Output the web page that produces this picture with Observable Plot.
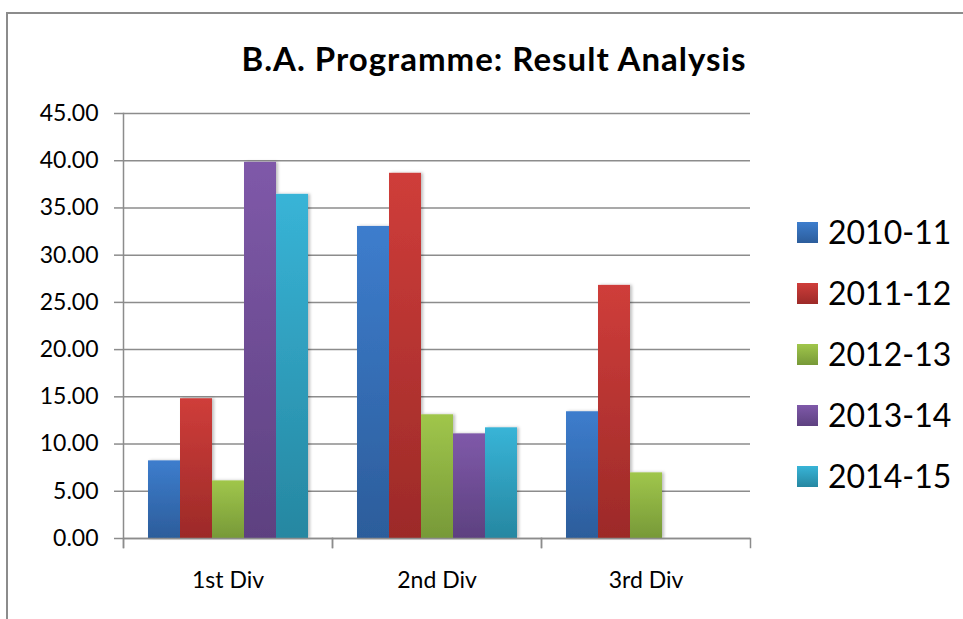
<!DOCTYPE html>
<html><head><meta charset="utf-8">
<script src="https://cdn.jsdelivr.net/npm/d3@7"></script>
<script src="https://cdn.jsdelivr.net/npm/@observablehq/plot@0.6"></script>
<style>
body{margin:0;background:#fff;}
#wrap{position:relative;width:963px;height:619px;overflow:hidden;font-family:Lato,sans-serif;color:#000;}
#border{position:absolute;left:6px;top:12px;width:1000px;height:700px;border-left:2px solid #8c8c8c;border-top:2px solid #8c8c8c;}
#title{position:absolute;left:0;width:988px;top:42px;text-align:center;font-weight:bold;font-size:33px;line-height:33px;letter-spacing:1px;white-space:nowrap;}
#chart{position:absolute;left:0;top:0;}
#legend{position:absolute;left:797px;top:216px;}
.li{display:flex;align-items:center;height:32px;margin-bottom:29px;font-size:32px;line-height:32px;}
.sw{width:21px;height:21px;margin-right:10px;}
</style></head>
<body><div id="wrap"><div id="border"></div><div id="chart"></div><div id="title"></div><div id="legend"></div></div>
<script>
const titleText = "B.A. Programme: Result Analysis";
const divisions = ["1st Div", "2nd Div", "3rd Div"];
const years = ["2010-11", "2011-12", "2012-13", "2013-14", "2014-15"];
const v2010_11 = [8.22, 33.04, 13.42];
const v2011_12 = [14.80, 38.67, 26.80];
const v2012_13 = [6.10, 13.10, 6.95];
const v2013_14 = [39.83, 11.08, 0];
const v2014_15 = [36.44, 11.72, 0];
const yTicks = [0, 5, 10, 15, 20, 25, 30, 35, 40, 45];
const gradTop = ["#3d7dcd", "#cf3d3a", "#a0c64b", "#7f59a9", "#38b4d7"];
const gradBottom = ["#2c5d9b", "#9c2a28", "#779938", "#5d4180", "#2687a1"];

const series = [v2010_11, v2011_12, v2012_13, v2013_14, v2014_15];
const rows = [];
years.forEach((yr, i) => divisions.forEach((dv, j) => rows.push({year: yr, div: dv, value: series[i][j]})));

const grey = "#8c8c8c";
const plot = Plot.plot({
  width: 963, height: 619,
  marginLeft: 122, marginRight: 212, marginTop: 113, marginBottom: 81,
  style: {fontFamily: "Lato, sans-serif", fontSize: "23px", color: "#000", background: "transparent", overflow: "visible"},
  fx: {domain: divisions, padding: 0, label: null},
  x: {domain: years, paddingInner: 0, paddingOuter: 0.735, axis: null},
  y: {domain: [0, 45], label: null},
  color: {domain: years, range: years.map((_, i) => `url(#grad${i})`)},
  marks: [
    Plot.gridY(yTicks, {stroke: grey, strokeOpacity: 1, strokeWidth: 1.5}),
    Plot.barY(rows.filter(d => d.value > 0), {fx: "div", x: "year", y: "value", fill: "year", className: "bars"}),
    Plot.ruleY([0], {stroke: grey, strokeWidth: 1.5}),
    Plot.frame({anchor: "left", stroke: grey, strokeWidth: 1.5, insetTop: 425, insetBottom: -9}),
    Plot.frame({anchor: "right", stroke: grey, strokeWidth: 1.5, insetTop: 425, insetBottom: -9}),
    Plot.frame({anchor: "left", facet: "super", stroke: grey, strokeWidth: 1.5, insetBottom: -9}),
    Plot.axisY(yTicks, {tickSize: 9, tickPadding: 16, tickFormat: d3.format(".2f"), stroke: grey, strokeWidth: 1.5, fill: "#000", fontSize: 23, label: null}),
    Plot.axisFx({anchor: "bottom", tickSize: 0, tickPadding: 33, fontSize: 23, fill: "#000", label: null})
  ]
});

const svg = d3.select(plot);
const defs = svg.insert("defs", ":first-child");
years.forEach((_, i) => {
  const g = defs.append("linearGradient").attr("id", `grad${i}`).attr("x1", 0).attr("y1", 0).attr("x2", 0).attr("y2", 1);
  g.append("stop").attr("offset", "0%").attr("stop-color", gradTop[i]);
  g.append("stop").attr("offset", "100%").attr("stop-color", gradBottom[i]);
});
const f = defs.append("filter").attr("id", "shadow").attr("x", "-20%").attr("y", "-5%").attr("width", "150%").attr("height", "110%");
f.append("feDropShadow").attr("dx", 2).attr("dy", 0).attr("stdDeviation", 1.5).attr("flood-color", "#000").attr("flood-opacity", 0.25);
svg.selectAll("g.bars").attr("filter", "url(#shadow)");

document.getElementById("chart").appendChild(plot);
document.getElementById("title").textContent = titleText;
const legend = d3.select("#legend");
years.forEach((yr, i) => {
  const it = legend.append("div").attr("class", "li");
  it.append("div").attr("class", "sw").style("background", `linear-gradient(${gradTop[i]}, ${gradBottom[i]})`);
  it.append("span").text(yr);
});
</script></body></html>
